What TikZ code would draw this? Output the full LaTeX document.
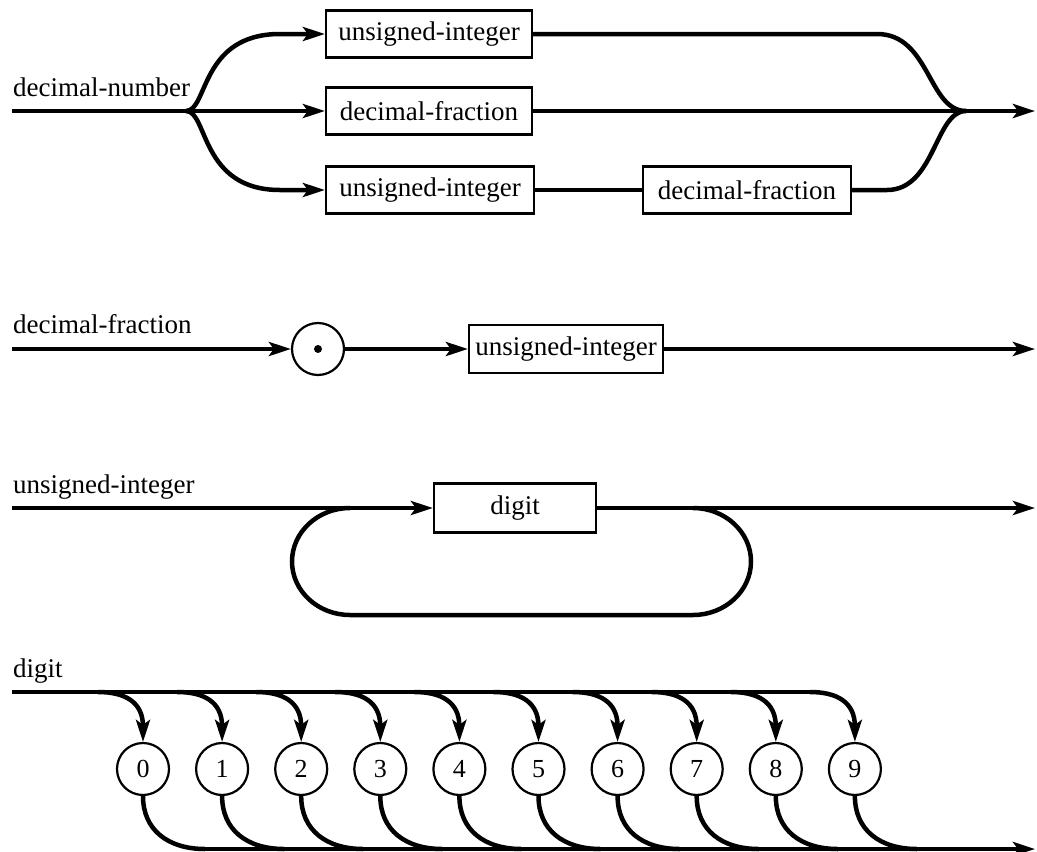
\documentclass[tikz,border=0pt]{standalone}
\usepackage{fontspec}
\setmainfont{Liberation Serif}
\usetikzlibrary{arrows.meta}
\begin{document}
\begin{tikzpicture}[x=1pt,y=-1pt,
  line/.style={line width=4.5pt},
  arr/.style={line width=4.5pt,-{Stealth[length=22pt,width=14pt,inset=5pt]}},
  box/.style={draw,line width=2.2pt,minimum height=47pt,inner sep=0pt,fill=white,font=\fontsize{27}{32}\selectfont},
  dig/.style={draw,circle,line width=2.2pt,minimum size=52pt,inner sep=0pt,fill=white,font=\fontsize{26}{31}\selectfont},
  lab/.style={anchor=base west,inner sep=0pt,font=\fontsize{27}{32}\selectfont}]
\useasboundingbox (0,0) rectangle (1037,852);

% ---------- decimal-number ----------
\node[lab] (t1) at (13,96) {decimal-number};
\coordinate (s1) at (12,111);
\coordinate (j1) at (186,111);
\coordinate (j2) at (966,111);
\coordinate (e1) at (1035,111);
\coordinate (c1) at (280,34);
\coordinate (c3) at (280,190);
\coordinate (c2) at (877,34);
\coordinate (c4) at (887,190);
\node[box,minimum width=206pt] (b1) at (429,34) {unsigned-integer};
\node[box,minimum width=206pt] (b2) at (429,111) {decimal-fraction};
\node[box,minimum width=208pt] (b3) at (430,190) {unsigned-integer};
\node[box,minimum width=208pt] (b4) at (747,190) {decimal-fraction};
\draw[line] (s1) -- (j1);
\draw[arr] (j1) .. controls (208,111) and (200,34) .. (c1) -- (b1.west);
\draw[arr] (j1) -- (b2.west);
\draw[arr] (j1) .. controls (208,111) and (200,190) .. (c3) -- (b3.west);
\draw[line] (b1.east) -- (c2) .. controls (930,34) and (928,111) .. (j2);
\draw[arr] (b2.east) -- (e1);
\draw[line] (b3.east) -- (b4.west);
\draw[line] (b4.east) -- (c4) .. controls (935,190) and (935,111) .. (j2);

% ---------- decimal-fraction ----------
\node[lab] (t2) at (13,333) {decimal-fraction};
\coordinate (s2) at (12,349);
\coordinate (e2) at (1035,349);
\node[dig] (dot) at (318,349) {};
\fill (dot.center) circle[radius=4pt];
\node[box,minimum width=194pt,minimum height=48pt] (b5) at (566,349) {unsigned-integer};
\draw[arr] (s2) -- (dot.west);
\draw[arr] (dot.east) -- (b5.west);
\draw[arr] (b5.east) -- (e2);

% ---------- unsigned-integer ----------
\node[lab] (t3) at (13,493) {unsigned-integer};
\coordinate (s3) at (12,508);
\coordinate (e3) at (1035,508);
\coordinate (uL) at (350,508);
\coordinate (uR) at (693,508);
\draw[line] (uR) .. controls (725,508) and (751,532) .. (751,561.5)
  .. controls (751,591) and (725,615) .. (693,615) -- (350,615)
  .. controls (318,615) and (292,591) .. (292,561.5)
  .. controls (292,532) and (318,508) .. (uL);
\node[box,minimum width=162pt,minimum height=49pt] (b6) at (515,508) {digit};
\draw[arr] (s3) -- (b6.west);
\draw[arr] (b6.east) -- (e3);

% ---------- digit ----------
\node[lab] (t4) at (13,677) {digit};
\coordinate (s4) at (12,692);
\coordinate (s4e) at (812,692);
\coordinate (bl) at (203,849);
\coordinate (e4) at (1035,849);
\draw[line] (s4) -- (s4e);
\draw[arr] (bl) -- (e4);
\foreach \k in {0,...,9}{
  \pgfmathsetmacro\cx{143+79.1*\k}
  \node[dig] (d\k) at (\cx,769) {\k};
  \coordinate (a\k) at (\cx-45,692);
  \coordinate (z\k) at (\cx+62,849);
  \draw[arr] (a\k) .. controls (\cx-18,692) and (\cx,702) .. (d\k.north);
  \draw[line] (d\k.south) .. controls (\cx,830) and (\cx+25,849) .. (z\k);
}
\end{tikzpicture}
\end{document}
